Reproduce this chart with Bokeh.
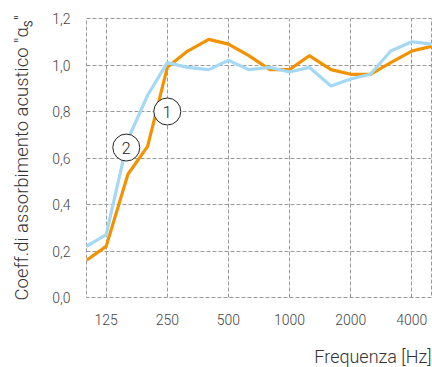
from bokeh.plotting import figure
from bokeh.models import FixedTicker, CustomJSTickFormatter, Range1d, ColumnDataSource, Title
from bokeh.core.properties import value
from bokeh.embed import file_html
from bokeh.resources import INLINE

# third-octave frequencies (Hz)
freq = [100, 125, 160, 200, 250, 315, 400, 500, 630, 800, 1000, 1250, 1600, 2000, 2500, 3150, 4000, 5000]
# curve 1 (orange)
alpha_1 = [0.16, 0.22, 0.53, 0.65, 0.99, 1.06, 1.11, 1.09, 1.04, 0.98, 0.98, 1.04, 0.98, 0.96, 0.96, 1.01, 1.06, 1.08]
# curve 2 (light blue)
alpha_2 = [0.22, 0.27, 0.68, 0.87, 1.01, 0.99, 0.98, 1.02, 0.98, 0.99, 0.97, 0.99, 0.91, 0.94, 0.96, 1.06, 1.10, 1.09]

x_ticks = [125, 250, 500, 1000, 2000, 4000]
y_ticks = [0.0, 0.2, 0.4, 0.6, 0.8, 1.0, 1.2]

# curve markers
marker_freq = [250, 157]
marker_val = [0.80, 0.645]
marker_text = ["1", "2"]

FONT = "Roboto Light"

p = figure(width=432, height=367, x_axis_type="log", output_backend="svg",
           toolbar_location=None, x_range=Range1d(100, 5000), y_range=Range1d(0, 1.2),
           min_border_left=86, min_border_right=1, min_border_top=18, min_border_bottom=10)

p.background_fill_color = "white"
p.border_fill_color = "white"
p.outline_line_color = "#9a9a9a"
p.outline_line_dash = "4 2"
p.outline_line_width = 1

p.line(freq, alpha_1, line_color="#f39200", line_width=3.2)
p.line(freq, alpha_2, line_color="#a3d9f5", line_width=3.2)

src = ColumnDataSource(dict(x=marker_freq, y=marker_val, t=marker_text))
p.scatter("x", "y", source=src, marker="circle", size=27, fill_color="white",
          line_color="#222222", line_width=1)
p.text("x", "y", text="t", source=src, text_align="center", text_baseline="middle",
       text_font=value(FONT), text_font_size="16px", text_color="#222222")

# axes
for ax in (p.xaxis, p.yaxis):
    ax.axis_line_color = None
    ax.major_tick_line_color = None
    ax.minor_tick_line_color = None
    ax.major_label_text_font = FONT
    ax.major_label_text_font_size = "14px"
    ax.major_label_text_color = "#444444"
    ax.major_label_standoff = 10

p.xaxis.ticker = FixedTicker(ticks=x_ticks, minor_ticks=[])
p.xaxis.formatter = CustomJSTickFormatter(code="return tick.toFixed(0);")
p.yaxis.ticker = FixedTicker(ticks=y_ticks, minor_ticks=[])
p.yaxis.formatter = CustomJSTickFormatter(code="return tick.toFixed(1).replace('.', ',');")

p.yaxis.axis_label = "Coeff.di assorbimento acustico \u2033\u03b1\u209b\u2033"
p.yaxis.axis_label_text_font = FONT
p.yaxis.axis_label_text_font_style = "normal"
p.yaxis.axis_label_text_font_size = "18.5px"
p.yaxis.axis_label_text_color = "#333333"
p.yaxis.axis_label_standoff = 16

# invisible spacer below the tick labels
p.xaxis.axis_label = "\u00a0"
p.xaxis.axis_label_text_font_size = "1px"
p.xaxis.axis_label_standoff = 11

xt = Title(text="Frequenza [Hz]", align="right", vertical_align="bottom", text_font=FONT,
           text_font_style="normal", text_font_size="18px", text_color="#333333", standoff=2)
p.add_layout(xt, "below")

# grid
p.xgrid.ticker = FixedTicker(ticks=x_ticks, minor_ticks=[])
p.ygrid.ticker = FixedTicker(ticks=y_ticks, minor_ticks=[])
for g in (p.xgrid, p.ygrid):
    g.grid_line_color = "#9a9a9a"
    g.grid_line_dash = "4 2"
    g.grid_line_width = 1

open("out.html", "w").write(file_html(p, INLINE))
